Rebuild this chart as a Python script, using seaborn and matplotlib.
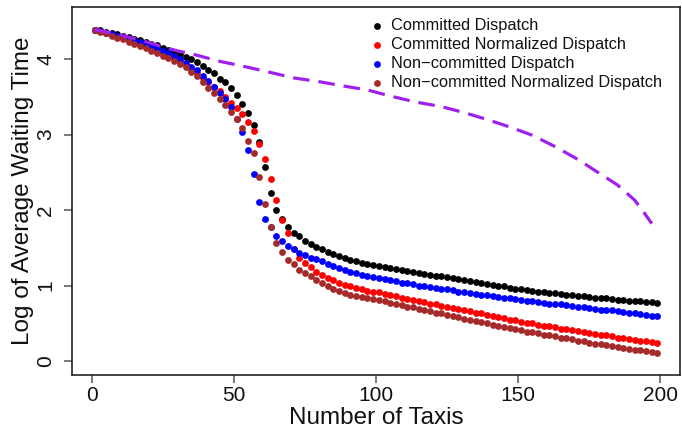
import numpy as np
import pandas as pd
import matplotlib
matplotlib.use("Agg")
import matplotlib.pyplot as plt
import seaborn as sns

# ---- data ----
taxis = list(range(1, 200, 2))

committed = [
    4.39, 4.38, 4.36, 4.35, 4.33, 4.31, 4.29, 4.27, 4.25, 4.23,
    4.20, 4.18, 4.15, 4.12, 4.09, 4.06, 4.03, 4.00, 3.96, 3.91,
    3.86, 3.81, 3.74, 3.69, 3.61, 3.52, 3.41, 3.28, 3.12, 2.90,
    2.57, 2.23, 2.00, 1.88, 1.78, 1.70, 1.65, 1.59, 1.55, 1.51,
    1.48, 1.45, 1.42, 1.39, 1.36, 1.34, 1.32, 1.30, 1.29, 1.27,
    1.26, 1.25, 1.23, 1.22, 1.21, 1.19, 1.18, 1.17, 1.15, 1.14,
    1.13, 1.12, 1.11, 1.10, 1.08, 1.07, 1.06, 1.05, 1.04, 1.02,
    1.01, 1.00, 0.99, 0.97, 0.96, 0.95, 0.94, 0.93, 0.92, 0.91,
    0.90, 0.90, 0.89, 0.88, 0.87, 0.86, 0.86, 0.85, 0.84, 0.84,
    0.83, 0.82, 0.81, 0.81, 0.80, 0.79, 0.79, 0.78, 0.78, 0.77,
]
committed_norm = [
    4.39, 4.37, 4.35, 4.32, 4.30, 4.28, 4.25, 4.23, 4.20, 4.17,
    4.14, 4.11, 4.08, 4.04, 4.01, 3.97, 3.92, 3.87, 3.81, 3.75,
    3.69, 3.63, 3.57, 3.50, 3.42, 3.35, 3.27, 3.16, 3.05, 2.88,
    2.68, 2.41, 2.13, 1.87, 1.70, 1.49, 1.37, 1.30, 1.25, 1.18,
    1.14, 1.10, 1.07, 1.04, 1.01, 0.99, 0.97, 0.95, 0.93, 0.92,
    0.91, 0.89, 0.87, 0.86, 0.84, 0.82, 0.81, 0.79, 0.78, 0.76,
    0.75, 0.73, 0.72, 0.70, 0.69, 0.67, 0.66, 0.64, 0.63, 0.61,
    0.60, 0.58, 0.57, 0.55, 0.54, 0.52, 0.51, 0.50, 0.48, 0.47,
    0.46, 0.45, 0.43, 0.42, 0.41, 0.40, 0.38, 0.37, 0.36, 0.35,
    0.34, 0.33, 0.31, 0.30, 0.29, 0.28, 0.27, 0.26, 0.25, 0.24,
]
noncommitted = [
    4.39, 4.37, 4.35, 4.33, 4.31, 4.29, 4.27, 4.24, 4.22, 4.19,
    4.17, 4.14, 4.11, 4.08, 4.04, 4.00, 3.95, 3.90, 3.85, 3.77,
    3.71, 3.63, 3.55, 3.47, 3.36, 3.21, 3.04, 2.79, 2.48, 2.11,
    1.88, 1.77, 1.66, 1.59, 1.53, 1.48, 1.43, 1.40, 1.37, 1.35,
    1.32, 1.29, 1.26, 1.23, 1.21, 1.18, 1.16, 1.14, 1.13, 1.11,
    1.10, 1.08, 1.07, 1.06, 1.04, 1.03, 1.02, 1.00, 0.99, 0.98,
    0.97, 0.96, 0.95, 0.94, 0.92, 0.91, 0.90, 0.89, 0.88, 0.87,
    0.86, 0.85, 0.84, 0.83, 0.82, 0.81, 0.80, 0.79, 0.78, 0.77,
    0.76, 0.76, 0.75, 0.74, 0.73, 0.72, 0.71, 0.70, 0.69, 0.68,
    0.68, 0.67, 0.66, 0.65, 0.64, 0.63, 0.62, 0.61, 0.60, 0.59,
]
noncommitted_norm = [
    4.39, 4.36, 4.34, 4.31, 4.28, 4.26, 4.23, 4.20, 4.17, 4.14,
    4.11, 4.08, 4.04, 4.01, 3.97, 3.94, 3.89, 3.83, 3.77, 3.70,
    3.62, 3.55, 3.47, 3.39, 3.30, 3.21, 3.09, 2.92, 2.75, 2.44,
    2.08, 1.77, 1.56, 1.45, 1.34, 1.28, 1.21, 1.17, 1.12, 1.07,
    1.04, 1.00, 0.96, 0.93, 0.90, 0.88, 0.86, 0.85, 0.83, 0.82,
    0.81, 0.79, 0.77, 0.76, 0.74, 0.72, 0.71, 0.69, 0.67, 0.66,
    0.64, 0.63, 0.61, 0.60, 0.58, 0.56, 0.55, 0.53, 0.52, 0.50,
    0.48, 0.47, 0.45, 0.44, 0.42, 0.41, 0.39, 0.38, 0.37, 0.35,
    0.34, 0.33, 0.31, 0.30, 0.29, 0.27, 0.26, 0.24, 0.23, 0.22,
    0.21, 0.20, 0.19, 0.17, 0.16, 0.15, 0.14, 0.13, 0.12, 0.10,
]

dash_x = [1, 5, 10, 15, 20, 25, 30, 36, 45, 55, 62, 71, 80, 89, 97, 105,
          114, 123, 131, 139, 147, 155, 163, 171, 178, 185, 191, 194, 197]
dash_y = [4.39, 4.36, 4.32, 4.27, 4.22, 4.16, 4.11, 4.06, 3.97, 3.89, 3.83,
          3.75, 3.70, 3.64, 3.59, 3.51, 3.43, 3.37, 3.29, 3.20, 3.10, 2.99,
          2.84, 2.67, 2.50, 2.33, 2.13, 1.98, 1.82]

series_names = ["Committed Dispatch", "Committed Normalized Dispatch",
                "Non\u2212committed Dispatch", "Non\u2212committed Normalized Dispatch"]
series_vals = [committed, committed_norm, noncommitted, noncommitted_norm]
colors = ["#000000", "#FF0000", "#0000FF", "#A52A2A"]

x_ticks = [0, 50, 100, 150, 200]
y_ticks = [0, 1, 2, 3, 4]

# ---- plotting ----
sns.set_style("white")
plt.rcParams["font.family"] = ["Liberation Sans", "DejaVu Sans"]

W, H = 682, 430
fig = plt.figure(figsize=(W / 100, H / 100), dpi=100)
ax = fig.add_axes([72 / W, 1 - 375 / H, 608 / W, 368 / H])

frames = []
for name, vals in zip(series_names, series_vals):
    frames.append(pd.DataFrame({"taxis": taxis, "value": vals, "series": name}))
df = pd.concat(frames, ignore_index=True)

for name, col in zip(series_names, colors):
    sub = df[df["series"] == name]
    sns.scatterplot(data=sub, x="taxis", y="value", color=col, s=24,
                    linewidth=0, ax=ax, label=name, zorder=3)

dash_df = pd.DataFrame({"taxis": dash_x, "value": dash_y})
sns.lineplot(data=dash_df, x="taxis", y="value", color="#A020F0", lw=2.3,
             ax=ax, zorder=4, legend=False, sort=False)
ax.lines[-1].set_dashes((5.2, 2.8))

ax.set_xlim(-6.92, 206.92)
ax.set_ylim(-0.185, 4.689)
ax.set_xticks(x_ticks)
ax.set_yticks(y_ticks)
ax.set_xticklabels([str(t) for t in x_ticks])
ax.set_yticklabels([str(t) for t in y_ticks], rotation=90, va="center")

for sp in ax.spines.values():
    sp.set_visible(True)
    sp.set_color("#222222")
    sp.set_linewidth(1.2)

ax.tick_params(axis="both", which="major", direction="out", length=6,
               width=1.1, color="#555555", labelsize=15, labelcolor="#111111",
               bottom=True, left=True)
ax.tick_params(axis="x", pad=2)
ax.tick_params(axis="y", pad=6)

ax.set_xlabel("Number of Taxis", fontsize=17.5, color="#111111", labelpad=1)
ax.set_ylabel("Log of Average Waiting Time", fontsize=17.5, color="#111111", labelpad=2)

leg = ax.legend(loc="upper left", bbox_to_anchor=(370 / W, 1 - 18 / H),
                bbox_transform=fig.transFigure, frameon=False,
                fontsize=11.8, handlelength=0.8, handletextpad=0.5,
                labelspacing=0.25, borderpad=0, borderaxespad=0,
                markerscale=1.0)
for t in leg.get_texts():
    t.set_color("#111111")

fig.savefig("out.png", dpi=100)
